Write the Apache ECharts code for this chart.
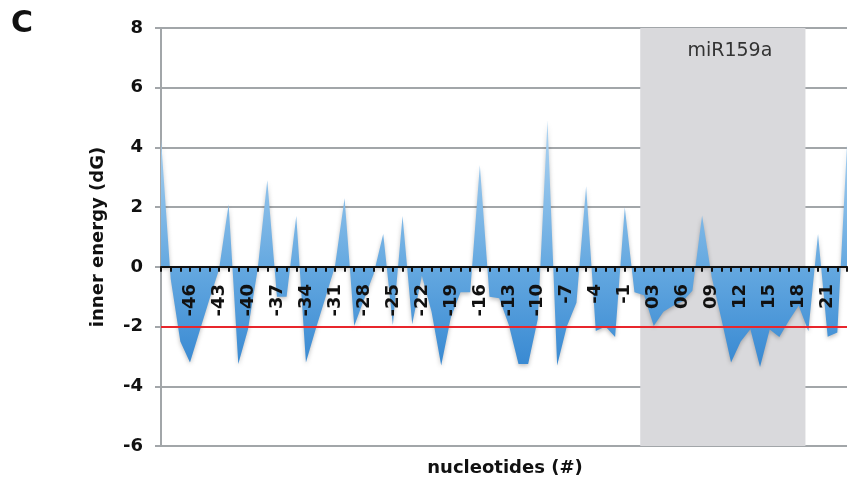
<!DOCTYPE html>
<html>
<head>
<meta charset="utf-8">
<script src="https://cdn.jsdelivr.net/npm/echarts@6/dist/echarts.min.js"></script>
<style>
  html, body { margin: 0; padding: 0; background: #fff; }
  #chart { width: 849px; height: 488px; }
</style>
</head>
<body>
<div id="chart"></div>
<script>
// Nucleotide positions relative to the miRNA start (no position 0)
const positions = [
  -49, -48, -47, -46, -45, -44, -43, -42, -41, -40, -39, -38, -37, -36, -35, -34,
  -33, -32, -31, -30, -29, -28, -27, -26, -25, -24, -23, -22, -21, -20, -19, -18,
  -17, -16, -15, -14, -13, -12, -11, -10, -9, -8, -7, -6, -5, -4, -3, -2, -1,
  1, 2, 3, 4, 5, 6, 7, 8, 9, 10, 11, 12, 13, 14, 15, 16, 17, 18, 19, 20, 21, 22, 23
];

// Inner energy (dG) per nucleotide
const innerEnergy = [
  4.3, -0.4, -2.5, -3.2, -2.15, -1.1, -0.1, 2.1, -3.25, -2.1, -0.1, 2.9, -1.0, -1.0, 1.7, -3.2,
  -2.1, -1.05, 0.0, 2.3, -1.98, -1.1, -0.25, 1.1, -1.95, 1.7, -1.92, -0.3, -1.5, -3.3, -1.7, -0.85,
  -0.85, 3.4, -1.0, -1.05, -1.95, -3.25, -3.25, -1.75, 4.9, -3.3, -2.0, -1.2, 2.7, -2.15, -2.0, -2.35, 2.0,
  -0.85, -0.95, -1.98, -1.5, -1.3, -1.15, -0.8, 1.72, -0.35, -1.75, -3.2, -2.5, -2.09, -3.35, -2.1, -2.35,
  -1.8, -1.3, -2.15, 1.1, -2.34, -2.2, 4.1
];

// y axis ticks
const yTicks = [-6, -4, -2, 0, 2, 4, 6, 8];

// Threshold line
const threshold = -2;

// miR159a region, in category-index units
const mirBand = [49.6, 66.7];
const mirName = 'miR159a';

const FONT = "'DejaVu Sans', Verdana, sans-serif";

const GRID = { left: 161, right: 2, top: 28, bottom: 42 };
const CHART_H = 488;

const chart = echarts.init(document.getElementById('chart'), null, { renderer: 'canvas' });

function fmtPos(v) {
  const n = Number(v);
  if (n > 0 && n < 10) return '0' + n;
  return String(n);
}

// Lift the category axis from the grid bottom up to the y = 0 line
const yMin = yTicks[0], yMax = yTicks[yTicks.length - 1];
const gridH = CHART_H - GRID.top - GRID.bottom;
const zeroLift = -gridH * (0 - yMin) / (yMax - yMin);

chart.setOption({
  animation: false,
  backgroundColor: '#ffffff',
  title: [
    {
      text: 'C',
      left: 6, top: 4,
      textStyle: { fontFamily: FONT, fontWeight: 'bold', fontSize: 30, color: '#111' }
    },
    {
      text: 'nucleotides (#)',
      left: 500, top: 454, textAlign: 'center',
      textStyle: { fontFamily: FONT, fontWeight: 'bold', fontSize: 18, color: '#111' }
    }
  ],
  grid: Object.assign({ containLabel: false }, GRID),
  xAxis: [
    {
      type: 'category',
      data: positions,
      boundaryGap: false,
      position: 'bottom',
      offset: zeroLift,
      z: 5,
      axisLine: { onZero: false, lineStyle: { color: '#111', width: 2 } },
      axisTick: { show: true, interval: 0, length: 5, lineStyle: { color: '#111', width: 2 } },
      axisLabel: {
        rotate: 90,
        margin: 17,
        interval: function (idx) { return idx > 0 && idx % 3 === 0; },
        formatter: fmtPos,
        fontFamily: FONT, fontWeight: 'bold', fontSize: 18, color: '#111'
      },
      splitLine: { show: false }
    },
    {
      type: 'value',
      min: 0, max: positions.length - 1,
      show: false
    }
  ],
  yAxis: {
    type: 'value',
    min: yMin, max: yMax, interval: 2,
    name: 'inner energy (dG)',
    nameLocation: 'middle',
    nameGap: 54,
    nameRotate: 90,
    nameTextStyle: { fontFamily: FONT, fontWeight: 'bold', fontSize: 18, color: '#111' },
    axisLine: { show: true, lineStyle: { color: '#a2a6a9', width: 2 } },
    axisTick: { show: true, length: 6, lineStyle: { color: '#a2a6a9', width: 2 } },
    axisLabel: {
      margin: 18,
      fontFamily: FONT, fontWeight: 'bold', fontSize: 18, color: '#111'
    },
    splitLine: { show: true, lineStyle: { color: '#a2a6a9', width: 2 } }
  },
  series: [
    {
      name: mirName,
      type: 'line',
      xAxisIndex: 1,
      data: [],
      z: -1,
      silent: true,
      markArea: {
        silent: true,
        itemStyle: { color: '#d9d9dc' },
        label: {
          show: true, position: 'insideTop', distance: 14, offset: [7, 0],
          fontFamily: FONT, fontSize: 19, color: '#333'
        },
        data: [[{ name: mirName, xAxis: mirBand[0] }, { xAxis: mirBand[1] }]]
      }
    },
    {
      name: 'inner energy',
      type: 'line',
      data: innerEnergy,
      showSymbol: false,
      z: 2,
      lineStyle: { width: 0 },
      areaStyle: {
        origin: 0,
        opacity: 1,
        color: new echarts.graphic.LinearGradient(0, 0, 0, 1, [
          { offset: 0, color: '#b0d5f2' },
          { offset: 0.6, color: '#64a8e0' },
          { offset: 1, color: '#3889d2' }
        ]),
        shadowBlur: 4,
        shadowColor: 'rgba(0,0,0,0.25)',
        shadowOffsetY: 2
      },
      markLine: {
        silent: true,
        symbol: 'none',
        label: { show: false },
        lineStyle: { color: '#e8262c', width: 2, type: 'solid' },
        data: [{ yAxis: threshold }]
      }
    }
  ]
});
</script>
</body>
</html>
